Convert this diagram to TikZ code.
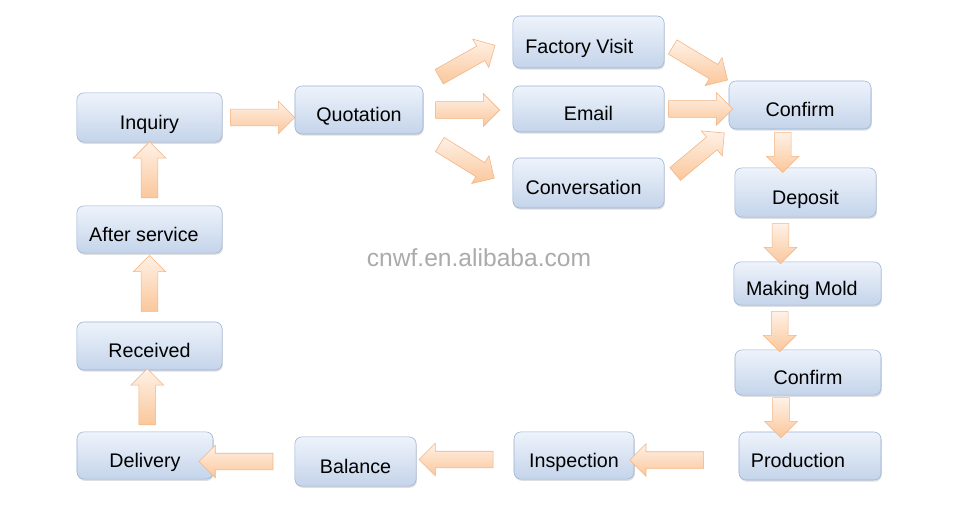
\documentclass[tikz,border=0pt]{standalone}
\usepackage{fontspec}
\setmainfont{Liberation Sans}
\usetikzlibrary{shapes.arrows,shadows}
\definecolor{boxtop}{HTML}{EEF3FB}
\definecolor{boxbottom}{HTML}{C4D4EA}
\definecolor{boxline}{HTML}{9AB2D4}
\definecolor{flowlight}{HTML}{FFF1E6}
\definecolor{flowdark}{HTML}{FAC79B}
\definecolor{flowline}{HTML}{F2B483}
\definecolor{marktext}{HTML}{ABABAB}

\begin{document}
\begin{tikzpicture}
  [x = 0.025cm, y = -0.025cm,
   stage/.style = {draw = boxline, rounded corners = 5pt, top color = boxtop, bottom color = boxbottom,
     drop shadow = {opacity = 0.25, shadow xshift = 0.6pt, shadow yshift = -1.2pt},
     font = \fontsize{14}{16}\selectfont, text height = 17pt, text depth = 0pt, inner sep = 0pt},
   flow/.style = {single arrow, draw = flowline, top color = flowlight, bottom color = flowdark,
     inner sep = 0.2cm, minimum width = 0.8cm, single arrow head extend = 0.2cm, minimum height = 1.6cm},
   flow down/.style = {flow, shape border rotate = 270, minimum height = 1.0cm},
   flow left/.style = {flow, shape border rotate = 180, minimum height = 1.85cm},
   flow up/.style = {flow, shape border rotate = 90, minimum height = 1.4cm}]
  \useasboundingbox[fill = white] (0,0) rectangle (956,513);

  % top row
  \node[stage, minimum width = 3.63cm, minimum height = 1.23cm] (inquiry) at (149.5,117.5) {Inquiry};
  \node[stage, minimum width = 3.2cm, minimum height = 1.2cm] (quotation) at (359,110) {Quotation};
  \node[stage, minimum width = 3.78cm, minimum height = 1.3cm] (visit) at (588.5,42) {Factory Visit\hspace{13pt}\mbox{}};
  \node[stage, minimum width = 3.78cm, minimum height = 1.15cm] (email) at (588.5,109) {Email};
  \node[stage, minimum width = 3.78cm, minimum height = 1.25cm] (conversation) at (588.5,183) {Conversation\hspace{7pt}\mbox{}};
  % right column
  \node[stage, minimum width = 3.55cm, minimum height = 1.2cm] (confirm) at (800,105) {Confirm};
  \node[stage, minimum width = 3.53cm, minimum height = 1.23cm] (deposit) at (805.5,192.5) {Deposit};
  \node[stage, minimum width = 3.68cm, minimum height = 1.08cm] (mold) at (807.5,283.5) {Making Mold\hspace{8pt}\mbox{}};
  \node[stage, minimum width = 3.65cm, minimum height = 1.13cm] (reconfirm) at (808,372.5) {Confirm};
  \node[stage, minimum width = 3.55cm, minimum height = 1.2cm] (production) at (810,456) {Production\hspace{17pt}\mbox{}};
  % bottom row and left column
  \node[stage, minimum width = 3.0cm, minimum height = 1.18cm] (inspection) at (574,455.5) {Inspection};
  \node[stage, minimum width = 3.03cm, minimum height = 1.23cm] (balance) at (355.5,461.5) {Balance};
  \node[stage, minimum width = 3.4cm, minimum height = 1.18cm] (delivery) at (145,455.5) {Delivery};
  \node[stage, minimum width = 3.63cm, minimum height = 1.2cm] (received) at (149.5,346) {Received};
  \node[stage, minimum width = 3.63cm, minimum height = 1.18cm] (aftersvc) at (149.5,229.5) {After service\hspace{8pt}\mbox{}};

  \node[text = marktext, font = \fontsize{17.5}{20}\selectfont] (site) at (479,258) {cnwf.en.alibaba.com};

  % arrows
  \path (inquiry.east) -- node[flow] (a1) {} (inquiry.east -| quotation.west);
  \path (quotation.north east) -- node[flow, sloped, pos = 0.45] (a2) {} (visit.175);
  \path (quotation.east) -- node[flow, pos = 0.45] (a3) {} (quotation.east -| email.west);
  \path (quotation.south east) -- node[flow, sloped, pos = 0.45] (a4) {} (conversation.185);
  \path (visit.east) -- node[flow, sloped] (a5) {} (confirm.north west);
  \path (email.east) -- node[flow] (a6) {} (email.east -| confirm.west);
  \path (conversation.east) -- node[flow, sloped] (a7) {} (confirm.south west);
  \path (confirm.south) -- node[flow down, xshift = -0.5cm] (a8) {} (deposit.north);
  \path (deposit.south) -- node[flow down, xshift = -0.65cm] (a9) {} (mold.north);
  \path (mold.south) -- node[flow down, xshift = -0.7cm] (a10) {} (reconfirm.north);
  \path (reconfirm.south) -- node[flow down, xshift = -0.7cm] (a11) {} (production.north);
  \path (production.west) -- node[flow left, pos = 0.65, yshift = -0.1cm] (a12) {} (production.west -| inspection.east);
  \path (inspection.west) -- node[flow left, pos = 0.55, yshift = -0.1cm] (a13) {} (inspection.west -| balance.east);
  \path (balance.west) -- node[flow left, pos = 0.67] (a14) {} (balance.west -| delivery.east);
  \path (delivery.north) -- node[flow up] (a15) {} (received.south);
  \path (received.north) -- node[flow up] (a16) {} (aftersvc.south);
  \path (aftersvc.north) -- node[flow up] (a17) {} (inquiry.south);
\end{tikzpicture}
\end{document}
